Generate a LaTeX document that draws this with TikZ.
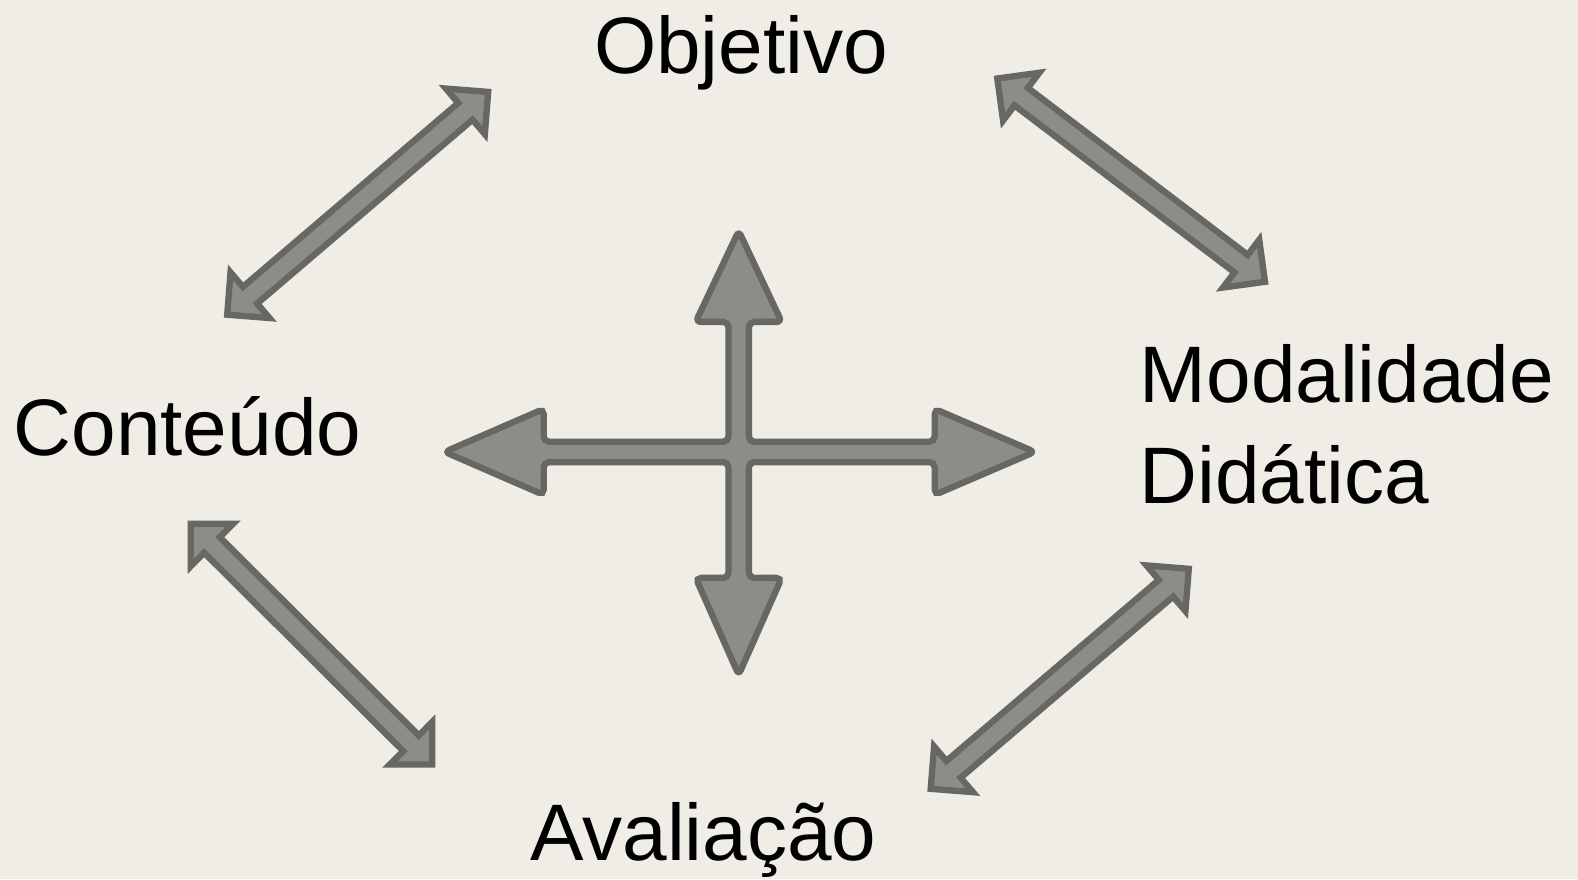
\documentclass[tikz,border=0pt]{standalone}
\usepackage{fontspec}
\setmainfont{Liberation Sans}
\usetikzlibrary{calc}

\definecolor{paper}{RGB}{239,237,229}
\definecolor{arrowfill}{RGB}{140,141,134}
\definecolor{arrowline}{RGB}{103,104,98}

\tikzset{
  label/.style={inner sep=0pt, font=\fontsize{22.8}{28.6}\selectfont},
  block/.style={fill=arrowfill, draw=arrowline, line width=1.8pt, line join=miter},
}

\begin{document}
\begin{tikzpicture}

% Background
\useasboundingbox[fill=paper] (0,0) rectangle (15.78,8.79);

% Labels
\node[label, anchor=base] (obj) at (7.41,8.055) {Objetivo};
\node[label, anchor=base west] (cont) at (0.13,4.24) {Conteúdo};
\node[label, anchor=base west, align=left] (modal) at (11.39,3.758) {Modalidade\\Didática};
\node[label, anchor=base] (aval) at (7.035,0.185) {Avaliação};

%% Ends of the links
\coordinate (c1) at (2.272,5.643);
\coordinate (o1) at (4.882,7.871);
\coordinate (o2) at (9.973,8.005);
\coordinate (m1) at (12.65,5.972);
\coordinate (c2) at (1.907,3.552);
\coordinate (a1) at (4.323,1.146);
\coordinate (a2) at (9.307,0.902);
\coordinate (m2) at (11.888,3.102);

%% Draw the double arrows
\foreach \a/\b in {c1/o1, o2/m1, c2/a1, a2/m2}
  \draw[block] (\a) -- ($(\a)!0.3cm!(\b)!0.3cm!90:(\b)$)
    -- ($(\a)!0.3cm!(\b)!0.11cm!90:(\b)$)
    -- ($(\b)!0.3cm!(\a)!0.11cm!-90:(\a)$)
    -- ($(\b)!0.3cm!(\a)!0.3cm!-90:(\a)$)
    -- (\b)
    -- ($(\b)!0.3cm!(\a)!0.3cm!90:(\a)$)
    -- ($(\b)!0.3cm!(\a)!0.11cm!90:(\a)$)
    -- ($(\a)!0.3cm!(\b)!0.11cm!-90:(\b)$)
    -- ($(\a)!0.3cm!(\b)!0.3cm!-90:(\b)$) -- cycle;

%% Draw the cross in the middle
\begin{scope}[shift={(7.387,4.271)}]
\draw[block, rounded corners=1.5pt]
  (0.102,0.102) -- (0.102,1.30) -- (0.43,1.30) -- (0,2.21) -- (-0.43,1.30)
  -- (-0.102,1.30) -- (-0.102,0.102) -- (-1.95,0.102) -- (-1.95,0.43)
  -- (-2.94,0) -- (-1.95,-0.43) -- (-1.95,-0.102) -- (-0.102,-0.102)
  -- (-0.102,-1.26) -- (-0.43,-1.26) -- (0,-2.23) -- (0.43,-1.26)
  -- (0.102,-1.26) -- (0.102,-0.102) -- (1.96,-0.102) -- (1.96,-0.43)
  -- (2.96,0) -- (1.96,0.43) -- (1.96,0.102) -- cycle;
\end{scope}

\end{tikzpicture}
\end{document}
